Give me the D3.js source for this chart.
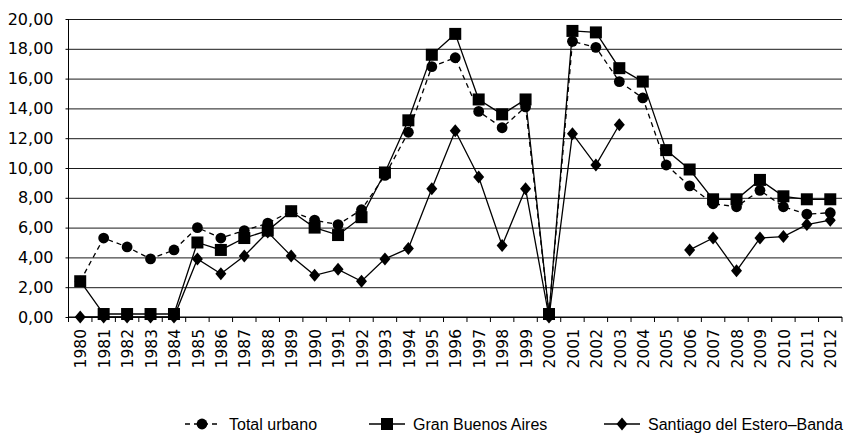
<!DOCTYPE html>
<html>
<head>
<meta charset="utf-8">
<script src="https://cdn.jsdelivr.net/npm/d3@7"></script>
<style>
  body { margin: 0; background: #fff; }
  .axis text { font-family: "DejaVu Sans", sans-serif; fill: #000; }
  .legend text { font-family: "Liberation Sans", Arial, sans-serif; font-size: 16px; fill: #000; }
</style>
</head>
<body>
<script>
// categories and series
let years = ['1980','1981','1982','1983','1984','1985','1986','1987','1988','1989',
             '1990','1991','1992','1993','1994','1995','1996','1997','1998','1999',
             '2000','2001','2002','2003','2004','2005','2006','2007','2008','2009',
             '2010','2011','2012'];

let totalUrbano = [2.4, 5.3, 4.7, 3.9, 4.5, 6.0, 5.3, 5.8, 6.3, 7.1,
                   6.5, 6.2, 7.2, 9.5, 12.4, 16.8, 17.4, 13.8, 12.7, 14.1,
                   0.2, 18.5, 18.1, 15.8, 14.7, 10.2, 8.8, 7.6, 7.4, 8.5,
                   7.4, 6.9, 7.0];

let granBuenosAires = [2.4, 0.2, 0.2, 0.2, 0.2, 5.0, 4.5, 5.3, 5.8, 7.1,
                       6.0, 5.5, 6.7, 9.7, 13.2, 17.6, 19.0, 14.6, 13.6, 14.6,
                       0.2, 19.2, 19.1, 16.7, 15.8, 11.2, 9.9, 7.9, 7.9, 9.2,
                       8.1, 7.9, 7.9];

let santiago = [0, 0, 0, 0, 0, 3.9, 2.9, 4.1, 5.7, 4.1,
                2.8, 3.2, 2.4, 3.9, 4.6, 8.6, 12.5, 9.4, 4.8, 8.6,
                0, 12.3, 10.2, 12.9, null, null, 4.5, 5.3, 3.1, 5.3,
                5.4, 6.2, 6.5];

let yTicks = [0, 2, 4, 6, 8, 10, 12, 14, 16, 18, 20];
let seriesNames = ['Total urbano', 'Gran Buenos Aires', 'Santiago del Estero\u2013Banda'];

let margin = {top: 19, right: 2, bottom: 116, left: 68.5};
let width = 844 - (margin.left + margin.right);
let height = 433 - (margin.top + margin.bottom);

let svg = d3.select('body').append('svg')
        .attr('width', 844)
        .attr('height', 433)
    .append('g')
        .attr('transform', 'translate(' + margin.left + ', ' + margin.top + ')');

let xScale = d3.scaleBand()
                .domain(years)
                .range([0, width]);

let yScale = d3.scaleLinear()
                .domain([0, 20])
                .range([height, 0]);

let cx = function(d, i){ return xScale(years[i]) + xScale.bandwidth() / 2; };

// gridlines
svg.append('g')
    .attr('class', 'grid')
    .call(d3.axisLeft(yScale).tickValues(yTicks).tickSize(-width).tickFormat(''))
    .call(g => g.select('.domain').remove())
    .selectAll('line')
        .attr('stroke', '#1a1a1a')
        .attr('stroke-width', 1);

// y axis
svg.append('g')
    .attr('class', 'axis')
    .call(d3.axisLeft(yScale)
            .tickValues(yTicks)
            .tickSize(3)
            .tickPadding(12)
            .tickFormat(function(d){ return d.toFixed(2).replace('.', ','); }))
    .call(g => g.select('.domain').attr('stroke', '#000').attr('d', 'M0,0V' + height))
    .selectAll('text')
        .style('font-size', '16px');

// x axis: labels at band centres, tick marks at band edges
let xAxis = svg.append('g')
    .attr('class', 'axis')
    .attr('transform', 'translate(0, ' + height + ')')
    .call(d3.axisBottom(xScale).tickSize(0).tickPadding(0));

xAxis.select('.domain').attr('stroke', '#000').attr('d', 'M0,0H' + width);

xAxis.selectAll('.tick text')
    .style('font-size', '15.5px')
    .attr('text-anchor', 'end')
    .attr('transform', 'rotate(-90)')
    .attr('x', -12)
    .attr('y', 0)
    .attr('dy', '0.4em');

xAxis.selectAll('.edge')
    .data(years.concat(['end']))
  .enter().append('line')
    .attr('class', 'edge')
    .attr('x1', function(d){ return d === 'end' ? width : xScale(d); })
    .attr('x2', function(d){ return d === 'end' ? width : xScale(d); })
    .attr('y1', 0)
    .attr('y2', 5)
    .attr('stroke', '#000');

let line = d3.line()
    .defined(function(d){ return d != null; })
    .x(cx)
    .y(function(d){ return yScale(d); });

// series 1: dashed with circles
svg.append('path')
    .datum(totalUrbano)
    .attr('fill', 'none')
    .attr('stroke', '#000')
    .attr('stroke-width', 1.3)
    .attr('stroke-dasharray', '5,4')
    .attr('d', line);

svg.selectAll('.dot')
    .data(totalUrbano)
  .enter().append('circle')
    .attr('class', 'dot')
    .attr('cx', cx)
    .attr('cy', function(d){ return yScale(d); })
    .attr('r', 5.4)
    .attr('fill', '#000');

// series 2: solid with squares
svg.append('path')
    .datum(granBuenosAires)
    .attr('fill', 'none')
    .attr('stroke', '#000')
    .attr('stroke-width', 1.3)
    .attr('d', line);

svg.selectAll('.sq')
    .data(granBuenosAires)
  .enter().append('rect')
    .attr('class', 'sq')
    .attr('x', function(d, i){ return cx(d, i) - 6; })
    .attr('y', function(d){ return yScale(d) - 6; })
    .attr('width', 12)
    .attr('height', 12)
    .attr('fill', '#000');

// series 3: solid with diamonds
svg.append('path')
    .datum(santiago)
    .attr('fill', 'none')
    .attr('stroke', '#000')
    .attr('stroke-width', 1.3)
    .attr('d', line);

let diamond = 'M0,-6.5L5.5,0L0,6.5L-5.5,0Z';

svg.selectAll('.dia')
    .data(santiago.map(function(v, i){ return {v: v, i: i}; }).filter(function(d){ return d.v != null; }))
  .enter().append('path')
    .attr('class', 'dia')
    .attr('transform', function(d){ return 'translate(' + cx(d.v, d.i) + ',' + yScale(d.v) + ')'; })
    .attr('d', diamond)
    .attr('fill', '#000');

// legend
let legendX = [185, 369, 604];
let legend = d3.select('svg').append('g').attr('class', 'legend')
    .attr('transform', 'translate(0, 424)');

let items = legend.selectAll('.item')
    .data(seriesNames)
  .enter().append('g')
    .attr('class', 'item')
    .attr('transform', function(d, i){ return 'translate(' + legendX[i] + ', 0)'; });

items.append('line')
    .attr('x1', 0).attr('x2', 36)
    .attr('stroke', '#000')
    .attr('stroke-width', 1.3)
    .attr('stroke-dasharray', function(d, i){ return i === 0 ? '5,4' : null; });

items.each(function(d, i){
    let g = d3.select(this);
    if(i === 0) g.append('circle').attr('cx', 17).attr('r', 5.4).attr('fill', '#000');
    if(i === 1) g.append('rect').attr('x', 12).attr('y', -6).attr('width', 12).attr('height', 12).attr('fill', '#000');
    if(i === 2) g.append('path').attr('transform', 'translate(18,0)').attr('d', diamond).attr('fill', '#000');
});

items.append('text')
    .attr('x', 44)
    .attr('dy', '0.35em')
    .text(function(d){ return d; });
</script>
</body>
</html>
